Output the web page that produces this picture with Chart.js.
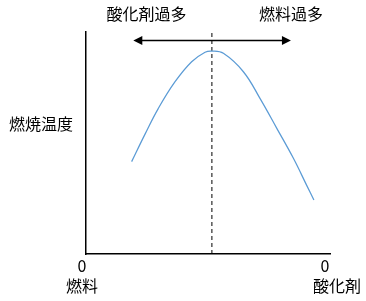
<!DOCTYPE html>
<html>
<head>
<meta charset="utf-8">
<script src="https://cdn.jsdelivr.net/npm/chart.js@4"></script>
<style>
  html, body { margin: 0; padding: 0; background: #fff; }
  #wrap { width: 366px; height: 301px; }
</style>
</head>
<body>
<div id="wrap"><canvas id="chart" width="366" height="301"></canvas></div>
<script>
// curve: combustion temperature vs fuel / oxidizer ratio
const curveX = [18.7, 24.2, 29.6, 36.5, 43.3, 48.8, 51.6, 56.3, 64.5, 71.3, 78.2, 85.0, 90.5, 93.4];
const curveY = [41.6, 54.0, 65.5, 77.6, 86.6, 90.9, 91.4, 90.4, 82.1, 70.1, 56.6, 43.1, 30.8, 24.3];

// stoichiometric line and the arrow above it
const peakX = 51.6;
const arrowRange = [19.4, 84.0];
const arrowLevel = 96.2;

// text
const leftTopLabel = '酸化剤過多';
const rightTopLabel = '燃料過多';
const topLabelX = [24.8, 84.0];
const yLabel = '燃焼温度';
const xStartLabels = ['0', '燃料'];
const xEndLabels = ['0', '酸化剤'];

const FONT = '"Noto Sans CJK JP", "Noto Sans", sans-serif';

// Draws the arrow and all the free text around the plot
const annotations = {
    id: 'annotations',
    afterDraw(chart) {
        const ctx = chart.ctx;
        const x = chart.scales.x;
        const y = chart.scales.y;
        const ay = y.getPixelForValue(arrowLevel);
        const x0 = x.getPixelForValue(arrowRange[0]);
        const x1 = x.getPixelForValue(arrowRange[1]);

        ctx.save();
        ctx.strokeStyle = '#000';
        ctx.fillStyle = '#000';
        ctx.lineWidth = 1.5;
        ctx.beginPath();
        ctx.moveTo(x0 + 6, ay);
        ctx.lineTo(x1 - 6, ay);
        ctx.stroke();
        // arrow heads
        ctx.beginPath();
        ctx.moveTo(x0, ay);
        ctx.lineTo(x0 + 9, ay - 4.5);
        ctx.lineTo(x0 + 9, ay + 4.5);
        ctx.closePath();
        ctx.fill();
        ctx.beginPath();
        ctx.moveTo(x1, ay);
        ctx.lineTo(x1 - 9, ay - 4.5);
        ctx.lineTo(x1 - 9, ay + 4.5);
        ctx.closePath();
        ctx.fill();

        ctx.font = '16px ' + FONT;
        ctx.textAlign = 'center';
        ctx.textBaseline = 'middle';
        ctx.fillText(leftTopLabel, x.getPixelForValue(topLabelX[0]), 14);
        ctx.fillText(rightTopLabel, x.getPixelForValue(topLabelX[1]), 14);

        ctx.textAlign = 'right';
        ctx.fillText(yLabel, x.left - 13, 124);

        ctx.textAlign = 'center';
        ctx.fillText(xStartLabels[0], x.left - 4, y.bottom + 12);
        ctx.fillText(xStartLabels[1], x.left - 4, y.bottom + 32);
        ctx.fillText(xEndLabels[0], x.right - 5, y.bottom + 12);
        ctx.fillText(xEndLabels[1], x.right + 7, y.bottom + 32);
        ctx.restore();
    }
};

new Chart(document.getElementById('chart'), {
    type: 'line',
    data: {
        datasets: [{
            data: curveX.map((v, i) => ({ x: v, y: curveY[i] })),
            borderColor: '#5b9bd5',
            borderWidth: 1.25,
            pointRadius: 0,
            tension: 0.4,
            fill: false
        }, {
            data: [{ x: peakX, y: 0 }, { x: peakX, y: 100 }],
            borderColor: '#000',
            borderWidth: 1,
            borderDash: [4, 3],
            pointRadius: 0,
            fill: false
        }]
    },
    options: {
        responsive: false,
        animation: false,
        layout: { padding: { left: 86, right: 36, top: 32, bottom: 47 } },
        plugins: { legend: { display: false }, tooltip: { enabled: false } },
        scales: {
            x: {
                type: 'linear', min: 0, max: 100,
                grid: { display: false, drawTicks: false },
                border: { display: true, color: '#000', width: 1.5 },
                ticks: { display: false }
            },
            y: {
                min: 0, max: 100,
                grid: { display: false, drawTicks: false },
                border: { display: true, color: '#000', width: 1.5 },
                ticks: { display: false }
            }
        }
    },
    plugins: [annotations]
});
</script>
</body>
</html>
